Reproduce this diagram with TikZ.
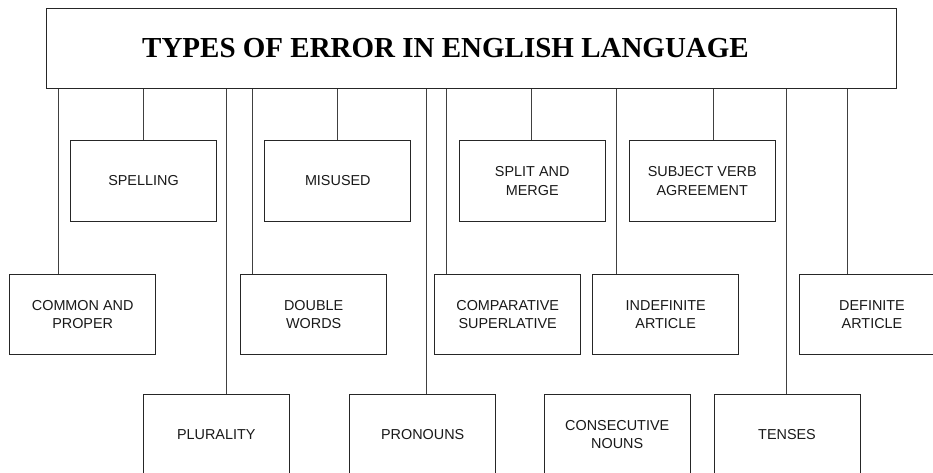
\documentclass[tikz,border=0pt]{standalone}
\usepackage{fontspec}
\setmainfont{Liberation Sans}
\newfontfamily\titlefont{Liberation Serif}
\begin{document}
\begin{tikzpicture}[x=1pt,y=-1pt,
  box/.style={draw=black!85,line width=1pt,rectangle,minimum width=146pt,minimum height=80pt,inner sep=0pt,align=center,
    font=\fontsize{14.4}{18.3}\selectfont,text=black!90},
  conn/.style={draw=black!75,line width=1pt}]
\clip (0,0) rectangle (933,473);
\fill[white] (0,0) rectangle (933,473);
\node[draw=black!85,line width=1pt,minimum width=850.4pt,minimum height=80.3pt,inner sep=0pt,
  font=\titlefont\bfseries\fontsize{29}{34}\selectfont] (title) at (471.5,48.2) {\hspace*{-52pt}TYPES OF ERROR IN ENGLISH LANGUAGE};
% row 1
\node[box] (spelling) at (143.5,181) {SPELLING};
\node[box] (misused) at (337.8,181) {MISUSED};
\node[box] (split) at (532.2,181) {SPLIT AND\\MERGE};
\node[box] (subject) at (702.2,181) {SUBJECT VERB\\AGREEMENT};
% row 2
\node[box] (common) at (82.7,314.3) {COMMON AND\\PROPER};
\node[box] (double) at (313.7,314.3) {DOUBLE\\WORDS};
\node[box] (compar) at (507.7,314.3) {COMPARATIVE\\SUPERLATIVE};
\node[box] (indef) at (665.7,314.3) {INDEFINITE\\ARTICLE};
\node[box] (defin) at (872,314.3) {DEFINITE\\ARTICLE};
% row 3
\node[box] (plural) at (216.3,434.3) {PLURALITY};
\node[box] (pronoun) at (422.7,434.3) {PRONOUNS};
\node[box] (consec) at (617.2,434.3) {CONSECUTIVE\\NOUNS};
\node[box] (tenses) at (787,434.3) {TENSES};
% connector x positions
\coordinate (xc) at (58.7,0);
\coordinate (xs) at (143,0);
\coordinate (xp) at (226.3,0);
\coordinate (xd) at (252.7,0);
\coordinate (xm) at (337.3,0);
\coordinate (xpr) at (426.3,0);
\coordinate (xco) at (446.3,0);
\coordinate (xsp) at (531.3,0);
\coordinate (xi) at (616.7,0);
\coordinate (xsu) at (713.3,0);
\coordinate (xt) at (786.7,0);
\coordinate (xde) at (847.7,0);
\draw[conn] (title.south -| xc) -- (xc |- common.north);
\draw[conn] (title.south -| xs) -- (xs |- spelling.north);
\draw[conn] (title.south -| xp) -- (xp |- plural.north);
\draw[conn] (title.south -| xd) -- (xd |- double.north);
\draw[conn] (title.south -| xm) -- (xm |- misused.north);
\draw[conn] (title.south -| xpr) -- (xpr |- pronoun.north);
\draw[conn] (title.south -| xco) -- (xco |- compar.north);
\draw[conn] (title.south -| xsp) -- (xsp |- split.north);
\draw[conn] (title.south -| xi) -- (xi |- indef.north);
\draw[conn] (title.south -| xsu) -- (xsu |- subject.north);
\draw[conn] (title.south -| xt) -- (xt |- tenses.north);
\draw[conn] (title.south -| xde) -- (xde |- defin.north);
\end{tikzpicture}
\end{document}
